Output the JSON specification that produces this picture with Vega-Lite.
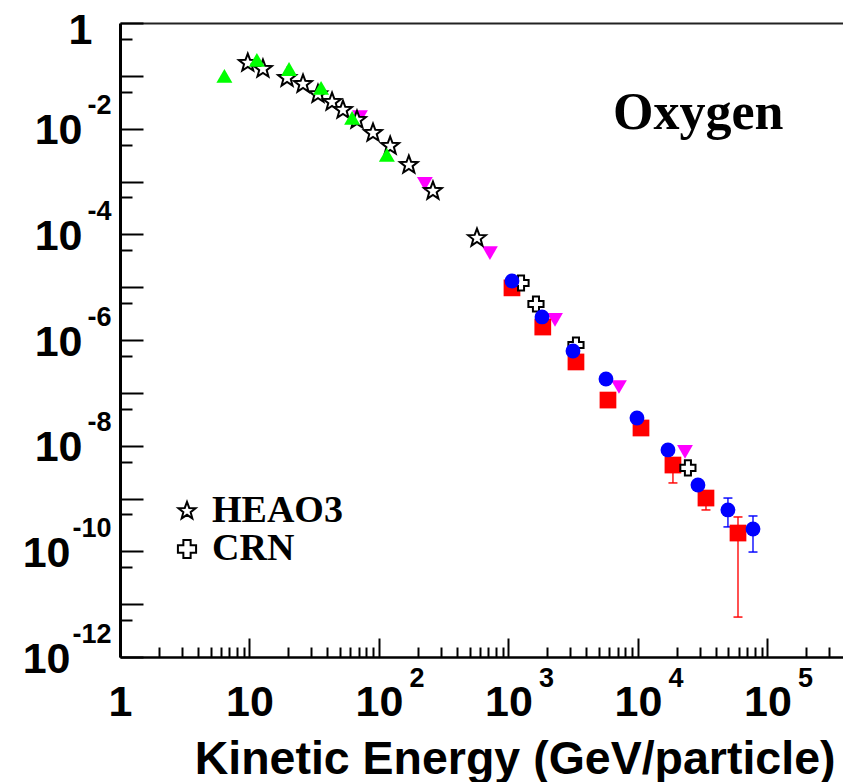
{
  "$schema": "https://vega.github.io/schema/vega-lite/v6.json",
  "width": 723,
  "height": 634,
  "autosize": {"type": "none"},
  "padding": {"left": 120, "top": 23, "right": 0, "bottom": 125},
  "background": "white",
  "config": {"view": {"stroke": null}, "axis": {"grid": false}},
  "title": {"text": "Oxygen", "anchor": "start", "frame": "group", "font": "Liberation Serif", "fontSize": 52, "fontWeight": "bold", "color": "black", "offset": 0, "baseline": "alphabetic", "dx": 493, "dy": 172},
  "datasets": {
    "pts": [
      {"s": "magenta", "E": 71.3, "F": 0.0166},
      {"s": "magenta", "E": 226, "F": 0.0009},
      {"s": "magenta", "E": 719, "F": 4.4e-5},
      {"s": "magenta", "E": 2287, "F": 2.4e-6},
      {"s": "magenta", "E": 7130, "F": 1.29e-7},
      {"s": "magenta", "E": 23070, "F": 7.6e-9},
      {"s": "HEAO3", "E": 9.7, "F": 0.175},
      {"s": "HEAO3", "E": 12.7, "F": 0.135},
      {"s": "HEAO3", "E": 19.5, "F": 0.091},
      {"s": "HEAO3", "E": 25.9, "F": 0.07},
      {"s": "HEAO3", "E": 33.8, "F": 0.045},
      {"s": "HEAO3", "E": 43.4, "F": 0.032},
      {"s": "HEAO3", "E": 52.7, "F": 0.0226},
      {"s": "HEAO3", "E": 67.6, "F": 0.0146},
      {"s": "HEAO3", "E": 89.9, "F": 0.0083},
      {"s": "HEAO3", "E": 122, "F": 0.0047},
      {"s": "HEAO3", "E": 170, "F": 0.00206},
      {"s": "HEAO3", "E": 261, "F": 0.00066},
      {"s": "HEAO3", "E": 571, "F": 8.5e-5},
      {"s": "green", "E": 6.4, "F": 0.1},
      {"s": "green", "E": 11.4, "F": 0.2},
      {"s": "green", "E": 20.2, "F": 0.135},
      {"s": "green", "E": 35.7, "F": 0.059},
      {"s": "green", "E": 62, "F": 0.016},
      {"s": "green", "E": 115, "F": 0.0032},
      {"s": "red", "E": 1064, "F": 9.7e-6},
      {"s": "red", "E": 1840, "F": 1.76e-6},
      {"s": "red", "E": 3320, "F": 3.84e-7},
      {"s": "red", "E": 5865, "F": 7.3e-8},
      {"s": "red", "E": 10550, "F": 2.16e-8},
      {"s": "red", "E": 18620, "F": 4.3e-9},
      {"s": "red", "E": 33500, "F": 1.02e-9},
      {"s": "red", "E": 59200, "F": 2.22e-10},
      {"s": "CRN", "E": 1250, "F": 1.2e-5},
      {"s": "CRN", "E": 1630, "F": 4.8e-6},
      {"s": "CRN", "E": 3320, "F": 8.05e-7},
      {"s": "CRN", "E": 24300, "F": 3.8e-9},
      {"s": "blue", "E": 1064, "F": 1.31e-5},
      {"s": "blue", "E": 1815, "F": 2.73e-6},
      {"s": "blue", "E": 3148, "F": 6.2e-7},
      {"s": "blue", "E": 5660, "F": 1.83e-7},
      {"s": "blue", "E": 9820, "F": 3.34e-8},
      {"s": "blue", "E": 17050, "F": 8.3e-9},
      {"s": "blue", "E": 29050, "F": 1.8e-9},
      {"s": "blue", "E": 49500, "F": 6.07e-10},
      {"s": "blue", "E": 77300, "F": 2.65e-10}
    ],
    "err": [
      {"s": "red", "E": 18620, "lo": 1.97e-9, "hi": 5.0e-9},
      {"s": "red", "E": 33500, "lo": 6.07e-10, "hi": 1.4e-9},
      {"s": "red", "E": 59200, "lo": 5.7e-12, "hi": 4.47e-10},
      {"s": "blue", "E": 49500, "lo": 2.9e-10, "hi": 1.02e-9},
      {"s": "blue", "E": 77300, "lo": 9.7e-11, "hi": 4.67e-10}
    ]
  },
  "resolve": {"axis": {"x": "independent", "y": "independent"}, "scale": {"shape": "independent", "size": "independent"}},
  "layer": [
    {
      "data": {"name": "err"},
      "mark": {"type": "rule", "strokeWidth": 1.6, "opacity": 0.85},
      "encoding": {
        "x": {
          "field": "E", "type": "quantitative",
          "scale": {"type": "log", "domain": [1, 383000], "nice": false},
          "axis": {
            "orient": "bottom",
            "values": [1,2,3,4,5,6,7,8,9,10,20,30,40,50,60,70,80,90,100,200,300,400,500,600,700,800,900,1000,2000,3000,4000,5000,6000,7000,8000,9000,10000,20000,30000,40000,50000,60000,70000,80000,90000,100000,200000,300000],
            "tickSize": {"condition": {"test": "abs(log(datum.value)/LN10 - round(log(datum.value)/LN10)) < 0.001", "value": -19}, "value": -10},
            "tickWidth": 2,
            "tickColor": "black",
            "domainColor": "black",
            "domainWidth": 2.5,
            "labelExpr": "datum.value == 1 ? '1' : (abs(log(datum.value)/LN10 - round(log(datum.value)/LN10)) < 0.001 ? '10' : '')",
            "labelFont": "Liberation Sans",
            "labelFontSize": 43,
            "labelFontWeight": "bold",
            "labelColor": "black",
            "labelBaseline": "middle",
            "labelAlign": "center",
            "labelPadding": 64,
            "labelFlush": false,
            "labelOverlap": false,
            "labelBound": false,
            "title": "Kinetic Energy (GeV/particle)",
            "titleFont": "Liberation Sans",
            "titleFontSize": 46.5,
            "titleFontWeight": "bold",
            "titleColor": "black",
            "titleAlign": "right",
            "titleBaseline": "alphabetic",
            "titleX": 715,
            "titleY": 116
          }
        },
        "y": {
          "field": "lo", "type": "quantitative",
          "scale": {"type": "log", "domain": [1e-12, 1], "nice": false},
          "axis": {
            "orient": "left",
            "values": [1,0.5,0.1,0.05,0.01,0.005,0.001,0.0005,1e-4,5e-5,1e-5,5e-6,1e-6,5e-7,1e-7,5e-8,1e-8,5e-9,1e-9,5e-10,1e-10,5e-11,1e-11,5e-12,1e-12],
            "tickSize": {"condition": {"test": "abs(log(datum.value)/LN10 - round(log(datum.value)/LN10)) < 0.001", "value": -23}, "value": -12},
            "tickWidth": 2,
            "tickColor": "black",
            "domainColor": "black",
            "domainWidth": 3,
            "labelExpr": "(abs(log(datum.value)/LN10 - round(log(datum.value)/LN10)) < 0.001 && round(log(datum.value)/LN10) % 2 == 0) ? (datum.value == 1 ? '1' : '10') : ''",
            "labelFont": "Liberation Sans",
            "labelFontSize": 43,
            "labelFontWeight": "bold",
            "labelColor": "black",
            "labelBaseline": "middle",
            "labelAlign": "right",
            "labelPadding": {"expr": "datum.value == 1 ? 51 : (datum.value < 1e-9 ? 73 : 61)"},
            "labelOffset": {"condition": {"test": "datum.value == 1", "value": 7}, "value": 2},
            "labelFlush": false,
            "labelOverlap": false,
            "labelBound": false,
            "title": null
          }
        },
        "y2": {"field": "hi"},
        "color": {"field": "s", "type": "nominal", "scale": {"domain": ["red", "blue"], "range": ["#ff0000", "#0000ff"]}, "legend": null}
      }
    },
    {
      "data": {"name": "err"},
      "transform": [{"fold": ["lo", "hi"], "as": ["end", "yv"]}],
      "mark": {"type": "tick", "orient": "horizontal", "size": 9, "thickness": 1.6, "opacity": 0.9},
      "encoding": {
        "x": {
          "field": "E", "type": "quantitative",
          "scale": {"type": "log", "domain": [1, 383000], "nice": false},
          "axis": {
            "orient": "bottom",
            "values": [100, 1000, 10000, 100000],
            "ticks": false,
            "domain": false,
            "labelExpr": "'' + round(log(datum.value)/LN10)",
            "labelFont": "Liberation Sans",
            "labelFontSize": 27,
            "labelFontWeight": "bold",
            "labelColor": "black",
            "labelBaseline": "middle",
            "labelAlign": "left",
            "labelOffset": 30,
            "labelPadding": 21,
            "labelFlush": false,
            "labelOverlap": false,
            "labelBound": false,
            "title": null
          }
        },
        "y": {
          "field": "yv", "type": "quantitative",
          "scale": {"type": "log", "domain": [1e-12, 1], "nice": false},
          "axis": {
            "orient": "left",
            "values": [0.01, 1e-4, 1e-6, 1e-8, 1e-10, 1e-12],
            "ticks": false,
            "domain": false,
            "labelExpr": "'-' + round(-log(datum.value)/LN10)",
            "labelFont": "Liberation Sans",
            "labelFontSize": 27,
            "labelFontWeight": "bold",
            "labelColor": "black",
            "labelBaseline": "middle",
            "labelAlign": "right",
            "labelPadding": 9,
            "labelOffset": -23,
            "labelFlush": false,
            "labelOverlap": false,
            "labelBound": false,
            "title": null
          }
        },
        "color": {"field": "s", "type": "nominal", "scale": {"domain": ["red", "blue"], "range": ["#ff0000", "#0000ff"]}, "legend": null}
      }
    },
    {
      "data": {"name": "pts"},
      "transform": [{"filter": "datum.s == 'magenta' || datum.s == 'red'"}],
      "mark": {"type": "point", "filled": true, "opacity": 1, "strokeWidth": 0},
      "encoding": {
        "x": {
          "field": "E", "type": "quantitative",
          "scale": {"type": "log", "domain": [1, 383000], "nice": false},
          "axis": {"orient": "top", "ticks": false, "labels": false, "domain": true, "domainColor": "#222222", "domainWidth": 2, "title": null}
        },
        "y": {
          "field": "F", "type": "quantitative",
          "scale": {"type": "log", "domain": [1e-12, 1], "nice": false},
          "axis": null
        },
        "shape": {
          "field": "s", "type": "nominal",
          "scale": {"domain": ["magenta", "red"], "range": ["triangle-down", "square"]},
          "legend": null
        },
        "fill": {
          "field": "s", "type": "nominal",
          "scale": {"domain": ["green", "magenta", "red", "blue"], "range": ["#00ff00", "#ff00ff", "#ff0000", "#0000ff"]},
          "legend": null
        },
        "size": {
          "field": "s", "type": "nominal",
          "scale": {"domain": ["magenta", "red"], "range": [250, 280]},
          "legend": null
        }
      }
    },
    {
      "data": {"name": "pts"},
      "transform": [{"filter": "datum.s == 'HEAO3' || datum.s == 'CRN'"}],
      "mark": {"type": "point", "filled": false, "fill": "white", "stroke": "black", "strokeWidth": 2, "opacity": 1},
      "encoding": {
        "x": {
          "field": "E", "type": "quantitative",
          "scale": {"type": "log", "domain": [1, 383000], "nice": false},
          "axis": null
        },
        "y": {
          "field": "F", "type": "quantitative",
          "scale": {"type": "log", "domain": [1e-12, 1], "nice": false},
          "axis": null
        },
        "shape": {
          "field": "s", "type": "nominal",
          "scale": {
            "domain": ["HEAO3", "CRN"],
            "range": ["M0,-1L0.247,-0.34L0.951,-0.309L0.399,0.13L0.588,0.809L0,0.42L-0.588,0.809L-0.399,0.13L-0.951,-0.309L-0.247,-0.34Z", "cross"]
          },
          "legend": {
            "orient": "none",
            "legendX": 48,
            "legendY": 469,
            "title": null,
            "padding": 0,
            "rowPadding": 0,
            "labelFont": "Liberation Serif",
            "labelFontSize": 38,
            "labelFontWeight": "bold",
            "labelColor": "black",
            "labelOffset": 6,
            "symbolSize": 330,
            "symbolStrokeWidth": 2
          }
        },
        "size": {"condition": {"test": "datum.s == 'HEAO3'", "value": 350}, "value": 230}
      }
    },
    {
      "data": {"name": "pts"},
      "transform": [{"filter": "datum.s == 'green' || datum.s == 'blue'"}],
      "mark": {"type": "point", "filled": true, "opacity": 1, "strokeWidth": 0},
      "encoding": {
        "x": {
          "field": "E", "type": "quantitative",
          "scale": {"type": "log", "domain": [1, 383000], "nice": false},
          "axis": null
        },
        "y": {
          "field": "F", "type": "quantitative",
          "scale": {"type": "log", "domain": [1e-12, 1], "nice": false},
          "axis": null
        },
        "shape": {
          "field": "s", "type": "nominal",
          "scale": {"domain": ["green", "blue"], "range": ["triangle-up", "circle"]},
          "legend": null
        },
        "fill": {
          "field": "s", "type": "nominal",
          "scale": {"domain": ["green", "magenta", "red", "blue"], "range": ["#00ff00", "#ff00ff", "#ff0000", "#0000ff"]},
          "legend": null
        },
        "size": {
          "field": "s", "type": "nominal",
          "scale": {"domain": ["green", "blue"], "range": [256, 220]},
          "legend": null
        }
      }
    }
  ]
}
